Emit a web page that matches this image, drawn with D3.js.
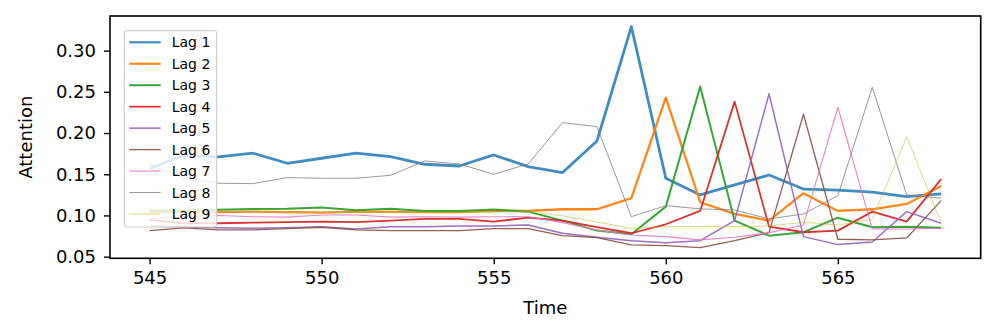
<!DOCTYPE html>
<html>
  <head>
    <meta charset="utf-8" />
    <script src="https://cdn.jsdelivr.net/npm/d3@7"></script>
    <style>
      body {
        margin: 0;
        background: #fff;
        font-family: "DejaVu Sans", sans-serif;
      }
    </style>
  </head>
  <body>
    <script>
      // time steps on the x axis
      var times = d3.range(545, 569);

      var lag1 = [0.157, 0.173, 0.171, 0.1755, 0.1633, 0.1694, 0.1755, 0.1714, 0.1621, 0.16, 0.1734, 0.1592,
        0.152, 0.1904, 0.329, 0.1451, 0.1249, 0.137, 0.1491, 0.132, 0.1306, 0.1282, 0.1228, 0.1261];
      var lag2 = [0.1046, 0.104, 0.104, 0.1046, 0.104, 0.1034, 0.1046, 0.1043, 0.104, 0.104, 0.1055, 0.1055,
        0.1075, 0.1075, 0.1209, 0.243, 0.116, 0.1018, 0.0937, 0.127, 0.1055, 0.1075, 0.114, 0.1358];
      var lag3 = [0.1058, 0.106, 0.107, 0.1079, 0.108, 0.1095, 0.1063, 0.1081, 0.1055, 0.1055, 0.1071, 0.1046,
        0.0937, 0.0816, 0.0772, 0.1107, 0.2563, 0.0937, 0.0755, 0.0796, 0.0973, 0.0857, 0.0864, 0.0852];
      var lag4 = [0.0945, 0.0905, 0.0905, 0.0913, 0.092, 0.0925, 0.092, 0.0937, 0.0958, 0.0958, 0.0925, 0.0973,
        0.0937, 0.0857, 0.0784, 0.0893, 0.1055, 0.2381, 0.0864, 0.0796, 0.0816, 0.1046, 0.0925, 0.144];
      var lag5 = [0.0873, 0.086, 0.085, 0.0844, 0.085, 0.0864, 0.0836, 0.0864, 0.0864, 0.0873, 0.0873, 0.0885,
        0.0784, 0.0735, 0.0694, 0.067, 0.0694, 0.0937, 0.2475, 0.0743, 0.0646, 0.0678, 0.1046, 0.0905];
      var lag6 = [0.0816, 0.085, 0.0825, 0.0824, 0.084, 0.0857, 0.0824, 0.0816, 0.0816, 0.0816, 0.084, 0.084,
        0.0755, 0.0731, 0.0642, 0.0633, 0.0609, 0.0694, 0.0791, 0.2228, 0.0711, 0.0703, 0.0727, 0.118];
      var lag7 = [0.096, 0.099, 0.1, 0.0985, 0.098, 0.1006, 0.1006, 0.098, 0.0985, 0.098, 0.0985, 0.0985,
        0.0913, 0.0824, 0.0763, 0.0743, 0.0703, 0.0735, 0.0791, 0.0885, 0.2313, 0.0836, 0.0836, 0.0844];
      var lag8 = [0.1621, 0.1451, 0.1391, 0.1386, 0.1459, 0.1451, 0.1451, 0.1487, 0.1661, 0.1625, 0.15, 0.1625,
        0.2126, 0.2078, 0.0985, 0.1119, 0.1079, 0.1067, 0.0958, 0.1018, 0.124, 0.2556, 0.1249, 0.1209];
      var lag9 = [0.1067, 0.106, 0.105, 0.105, 0.104, 0.104, 0.104, 0.104, 0.104, 0.104, 0.104, 0.1046,
        0.0995, 0.092, 0.0844, 0.0864, 0.0864, 0.0864, 0.0873, 0.0917, 0.0885, 0.0953, 0.1956, 0.0913];

      var seriesNames = ["Lag 1", "Lag 2", "Lag 3", "Lag 4", "Lag 5", "Lag 6", "Lag 7", "Lag 8", "Lag 9"];
      var seriesValues = [lag1, lag2, lag3, lag4, lag5, lag6, lag7, lag8, lag9];
      var xTicks = [545, 550, 555, 560, 565];
      var yTicks = [0.05, 0.1, 0.15, 0.2, 0.25, 0.3];

      var colors = ["#1f77b4", "#ff7f0e", "#2ca02c", "#d62728", "#9467bd", "#8c564b", "#e377c2", "#7f7f7f", "#bcbd22"];
      var widths = [2.8, 2.3, 2.0, 1.8, 1.5, 1.3, 1.1, 1.0, 0.8];
      var alphas = [0.85, 0.95, 0.95, 0.95, 0.95, 0.95, 0.9, 0.8, 0.7];

      var width = 997, height = 334;
      var margin = { top: 16, right: 16.3, bottom: 75.7, left: 110 };

      var svg = d3.select("body").append("svg")
        .attr("width", width)
        .attr("height", height);

      var x = d3.scaleLinear().domain([543.85, 569.15]).range([margin.left, width - margin.right]);
      var y = d3.scaleLinear().domain([0.048, 0.342]).range([height - margin.bottom, margin.top]);

      var line = d3.line()
        .x(function (d, i) { return x(times[i]); })
        .y(function (d) { return y(d); });

      // lines
      svg.append("g")
        .selectAll("path")
        .data(seriesValues)
        .enter()
        .append("path")
        .attr("d", line)
        .attr("fill", "none")
        .attr("stroke", function (d, i) { return colors[i]; })
        .attr("stroke-opacity", function (d, i) { return alphas[i]; })
        .attr("stroke-width", function (d, i) { return widths[i]; })
        .attr("stroke-linejoin", "round")
        .attr("stroke-linecap", "butt");

      // axes
      var xAxis = svg.append("g")
        .attr("transform", "translate(0," + (height - margin.bottom) + ")")
        .call(d3.axisBottom(x).tickValues(xTicks).tickSize(6).tickPadding(7).tickFormat(d3.format("d")));
      var yAxis = svg.append("g")
        .attr("transform", "translate(" + margin.left + ",0)")
        .call(d3.axisLeft(y).tickValues(yTicks).tickSize(6).tickPadding(8).tickFormat(d3.format(".2f")));

      [xAxis, yAxis].forEach(function (a) {
        a.select(".domain").remove();
        a.selectAll("line").attr("stroke", "#000").attr("stroke-width", 1.4);
        a.selectAll("text")
          .attr("fill", "#000")
          .style("font-family", "DejaVu Sans")
          .style("font-size", "18px");
      });

      // frame
      svg.append("rect")
        .attr("x", margin.left)
        .attr("y", margin.top)
        .attr("width", width - margin.left - margin.right)
        .attr("height", height - margin.top - margin.bottom)
        .attr("fill", "none")
        .attr("stroke", "#000")
        .attr("stroke-width", 1.6);

      // axis labels
      svg.append("text")
        .attr("x", (margin.left + width - margin.right) / 2)
        .attr("y", 314)
        .attr("text-anchor", "middle")
        .style("font-size", "18px")
        .text("Time");

      svg.append("text")
        .attr("transform", "translate(32," + (margin.top + (height - margin.top - margin.bottom) / 2) + ") rotate(-90)")
        .attr("text-anchor", "middle")
        .style("font-size", "18px")
        .text("Attention");

      // legend
      var legend = svg.append("g");
      legend.append("rect")
        .attr("x", 124.3)
        .attr("y", 30.7)
        .attr("width", 92.4)
        .attr("height", 196.3)
        .attr("rx", 3)
        .attr("fill", "#fff")
        .attr("fill-opacity", 0.8)
        .attr("stroke", "#d0d0d0")
        .attr("stroke-width", 1.2);

      var entries = legend.selectAll("g.entry")
        .data(seriesNames)
        .enter()
        .append("g")
        .attr("class", "entry")
        .attr("transform", function (d, i) { return "translate(0," + (42.3 + i * 21.46) + ")"; });

      entries.append("line")
        .attr("x1", 129.3)
        .attr("x2", 160.7)
        .attr("stroke", function (d, i) { return colors[i]; })
        .attr("stroke-opacity", function (d, i) { return alphas[i]; })
        .attr("stroke-width", function (d, i) { return Math.min(widths[i], 2.2); });

      entries.append("text")
        .attr("x", 171.7)
        .attr("y", 5)
        .style("font-size", "14px")
        .text(function (d) { return d; });
    </script>
  </body>
</html>
